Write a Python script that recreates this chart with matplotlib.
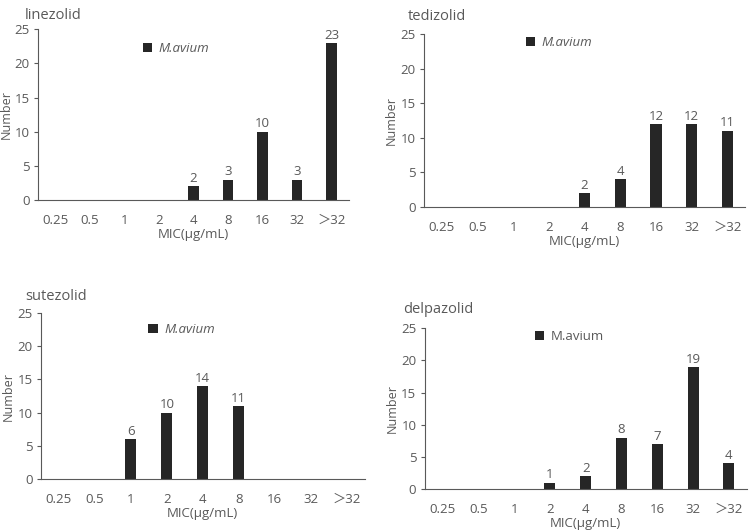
import numpy as np
import matplotlib
matplotlib.use("Agg")
import matplotlib.pyplot as plt

plt.rcParams['font.family'] = ['Open Sans', 'Noto Sans CJK SC', 'DejaVu Sans']

# données
mic = ['0.25', '0.5', '1', '2', '4', '8', '16', '32', '＞32']
linezolid = [0, 0, 0, 0, 2, 3, 10, 3, 23]
tedizolid = [0, 0, 0, 0, 2, 4, 12, 12, 11]
sutezolid = [0, 0, 6, 10, 14, 11, 0, 0, 0]
delpazolid = [0, 0, 0, 1, 2, 8, 7, 19, 4]

gris = '#595959'
barre = '#262626'

fig = plt.figure(figsize=(7.49, 5.32), dpi=100)

panneaux = [
    ('linezolid', linezolid, [0.0507, 0.624, 0.415, 0.321], True, (25, 8), (0.30, 0.885)),
    ('tedizolid', tedizolid, [0.566, 0.611, 0.429, 0.325], True, (408, 9), (0.28, 0.95)),
    ('sutezolid', sutezolid, [0.0547, 0.0996, 0.432, 0.312], True, (25, 289), (0.295, 0.90)),
    ('delpazolid', delpazolid, [0.567, 0.0808, 0.430, 0.302], False, (403, 302), (0.305, 0.95)),
]

x = np.arange(len(mic))
for nom, vals, pos, ital, tpos, lpos in panneaux:
    ax = fig.add_axes(pos)
    vals = np.array(vals)
    idx = vals > 0
    bars = ax.bar(x[idx], vals[idx], width=0.31, color=barre, label='M.avium')
    ax.bar_label(bars, padding=1, fontsize=9.5, color=gris)
    ax.set_xlim(-0.5, 8.5)
    ax.set_ylim(0, 25)
    ax.set_yticks([0, 5, 10, 15, 20, 25])
    ax.set_xticks(x)
    ax.set_xticklabels(mic)
    for s in ['top', 'right']:
        ax.spines[s].set_visible(False)
    ax.spines['left'].set_color(gris)
    ax.spines['bottom'].set_color(gris)
    ax.tick_params(axis='x', length=0, pad=10, labelsize=9.5, labelcolor=gris)
    ax.tick_params(axis='y', length=3, pad=3, color=gris, labelsize=9.5, labelcolor=gris)
    ax.set_ylabel('Number', fontsize=9, color=gris)
    ax.yaxis.set_label_coords(-0.082, 0.5)
    ax.set_xlabel('MIC(μg/mL)', fontsize=9.5, color=gris, labelpad=1)
    leg = ax.legend(loc='center left', bbox_to_anchor=lpos, frameon=False,
                    handlelength=0.7, handleheight=0.7, handletextpad=0.5,
                    prop={'size': 9.5, 'style': 'italic' if ital else 'normal'})
    for t in leg.get_texts():
        t.set_color(gris)
    fig.text(tpos[0] / 749, 1 - tpos[1] / 532, nom, fontsize=10.5, color=gris,
             ha='left', va='top')

fig.savefig('out.png', dpi=100)
